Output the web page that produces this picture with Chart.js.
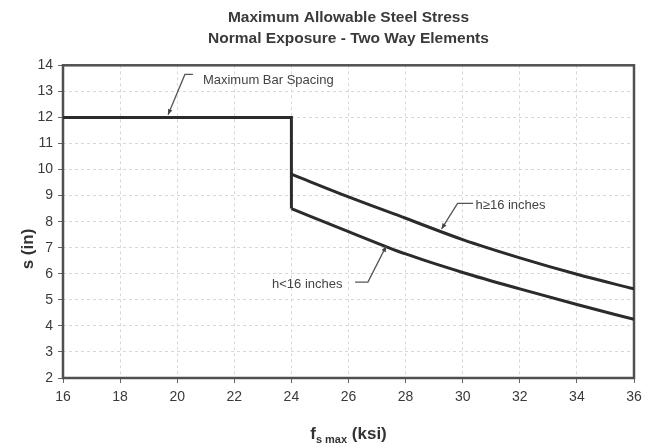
<!DOCTYPE html>
<html>
<head>
<meta charset="utf-8">
<script src="https://cdn.jsdelivr.net/npm/chart.js@4"></script>
<style>
  body { margin: 0; background: #fff; }
  .js-chart-wrap { width: 654px; height: 448px; }
</style>
</head>
<body>
<div class="js-chart-wrap"><canvas class="js-chart-place"></canvas></div>
<script>
// values
const titleLines = ['Maximum Allowable Steel Stress', 'Normal Exposure - Two Way Elements'];
const xTicks = [16, 18, 20, 22, 24, 26, 28, 30, 32, 34, 36];
const yTicks = [2, 3, 4, 5, 6, 7, 8, 9, 10, 11, 12, 13, 14];

const maxSpacingFs = [16, 24, 24];
const maxSpacingS = [12, 12, 8.5];

const fsValues = [24, 26, 28, 30, 32, 34, 36];
const sThick = [9.82, 8.95, 8.13, 7.31, 6.61, 5.98, 5.42];   // h>=16 inches
const sThin = [8.50, 7.62, 6.76, 6.05, 5.42, 4.82, 4.25];    // h<16 inches

const toPoints = (xs, ys) => xs.map((x, i) => ({x: x, y: ys[i]}));

const FONT = '"Liberation Sans", Arial, sans-serif';
const lineColor = '#2b2b2b';

// callouts: text, text anchor, leader path (data coords), arrow tip last
const callouts = [
  {text: 'Maximum Bar Spacing', tx: 20.9, ty: 13.42, path: [[20.55, 13.65], [20.27, 13.65], [19.68, 12.1]]},
  {text: 'h\u226516 inches', tx: 30.45, ty: 8.63, path: [[30.36, 8.7], [29.82, 8.7], [29.26, 7.72]]},
  {text: 'h<16 inches', tx: 23.32, ty: 5.6, path: [[26.23, 5.68], [26.68, 5.68], [27.32, 7.06]]}
];

const decorPlugin = {
  id: 'decor',
  beforeDatasetsDraw(chart) {
    const {ctx, chartArea: a} = chart;
    ctx.save();
    ctx.strokeStyle = '#505050';
    ctx.lineWidth = 2.5;
    ctx.strokeRect(a.left, a.top, a.right - a.left, a.bottom - a.top);
    ctx.restore();
  },
  afterDraw(chart) {
    const {ctx, chartArea: a} = chart;
    const xs = chart.scales.x, ys = chart.scales.y;
    ctx.save();

    // callouts
    ctx.font = '13px ' + FONT;
    ctx.fillStyle = '#444';
    ctx.strokeStyle = '#555';
    ctx.lineWidth = 1.3;
    ctx.textBaseline = 'middle';
    callouts.forEach((c) => {
      ctx.fillText(c.text, xs.getPixelForValue(c.tx), ys.getPixelForValue(c.ty));
      const pts = c.path.map((p) => [xs.getPixelForValue(p[0]), ys.getPixelForValue(p[1])]);
      ctx.beginPath();
      pts.forEach((p, i) => i ? ctx.lineTo(p[0], p[1]) : ctx.moveTo(p[0], p[1]));
      ctx.stroke();
      const tip = pts[pts.length - 1], prev = pts[pts.length - 2];
      const ang = Math.atan2(tip[1] - prev[1], tip[0] - prev[0]);
      ctx.beginPath();
      ctx.moveTo(tip[0], tip[1]);
      ctx.lineTo(tip[0] - 6 * Math.cos(ang - 0.4), tip[1] - 6 * Math.sin(ang - 0.4));
      ctx.lineTo(tip[0] - 6 * Math.cos(ang + 0.4), tip[1] - 6 * Math.sin(ang + 0.4));
      ctx.closePath();
      ctx.fillStyle = '#444';
      ctx.fill();
    });

    // y axis title
    ctx.fillStyle = '#333';
    ctx.font = 'bold 17px ' + FONT;
    ctx.textAlign = 'center';
    ctx.textBaseline = 'middle';
    ctx.save();
    ctx.translate(28, 249);
    ctx.rotate(-Math.PI / 2);
    ctx.fillText('s (in)', 0, 0);
    ctx.restore();

    // x axis title with subscript
    const parts = [['f', 'bold 17px ', 0], ['s max', 'bold 11px ', 4], [' (ksi)', 'bold 17px ', 0]];
    let total = 0;
    parts.forEach((p) => { ctx.font = p[1] + FONT; total += ctx.measureText(p[0]).width; });
    let x = (a.left + a.right) / 2 - total / 2;
    ctx.textAlign = 'left';
    ctx.textBaseline = 'alphabetic';
    parts.forEach((p) => {
      ctx.font = p[1] + FONT;
      ctx.fillText(p[0], x, 439 + p[2]);
      x += ctx.measureText(p[0]).width;
    });
    ctx.restore();
  }
};

const chartPlaceElement = document.querySelector('.js-chart-place');

new Chart(chartPlaceElement, {
  type: 'line',
  data: {
    datasets: [
      {label: 'Maximum Bar Spacing', data: toPoints(maxSpacingFs, maxSpacingS), borderColor: lineColor, borderWidth: 3, tension: 0},
      {label: 'h\u226516 inches', data: toPoints(fsValues, sThick), borderColor: lineColor, borderWidth: 3, cubicInterpolationMode: 'monotone'},
      {label: 'h<16 inches', data: toPoints(fsValues, sThin), borderColor: lineColor, borderWidth: 3, cubicInterpolationMode: 'monotone'}
    ]
  },
  options: {
    responsive: true,
    maintainAspectRatio: false,
    animation: false,
    elements: {point: {radius: 0}, line: {borderJoinStyle: 'miter'}},
    layout: {padding: {left: 0, right: 20, top: 0, bottom: 0}},
    plugins: {
      legend: {display: false},
      tooltip: {enabled: false},
      title: {
        display: true,
        text: titleLines,
        fullSize: false,
        color: '#3a3a3a',
        font: {family: FONT, size: 15.5, weight: 'bold', lineHeight: 1.3},
        padding: {top: 8, bottom: 17}
      }
    },
    scales: {
      x: {
        type: 'linear',
        min: 16,
        max: 36,
        afterFit: (scale) => { scale.height = 70; },
        afterBuildTicks: (scale) => { scale.ticks = xTicks.map((v) => ({value: v})); },
        ticks: {color: '#3a3a3a', font: {family: FONT, size: 14}, padding: 6, maxRotation: 0},
        grid: {color: '#d8d8d8', tickColor: '#666', tickLength: 5, tickBorderDash: []},
        border: {display: false, dash: [3, 3]}
      },
      y: {
        min: 2,
        max: 14,
        afterFit: (scale) => { scale.width = 63; },
        afterBuildTicks: (scale) => { scale.ticks = yTicks.map((v) => ({value: v})); },
        ticks: {color: '#3a3a3a', font: {family: FONT, size: 14}, padding: 5},
        grid: {color: '#d8d8d8', tickColor: '#666', tickLength: 5, tickBorderDash: []},
        border: {display: false, dash: [3, 3]}
      }
    }
  },
  plugins: [decorPlugin]
});
</script>
</body>
</html>
